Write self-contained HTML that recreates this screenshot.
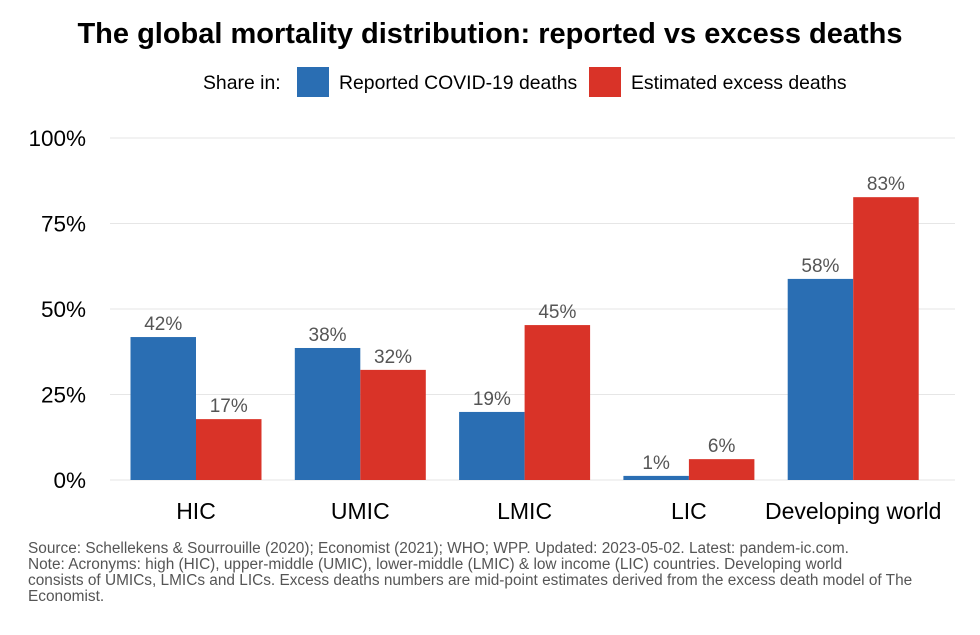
<!DOCTYPE html>
<html><head><meta charset="utf-8"><style>
body{margin:0;background:#fff;font-family:"Liberation Sans",Arial,sans-serif}
svg text{font-family:"Liberation Sans",Arial,sans-serif}
</style></head><body>
<svg id="chart" width="980" height="630" viewBox="0 0 980 630">
<text x="490" y="43" text-anchor="middle" font-size="29" font-weight="bold" fill="#000">The global mortality distribution: reported vs excess deaths</text>
<g>
<text x="203" y="89" font-size="19.4" fill="#000">Share in:</text>
<rect x="297" y="67" width="32" height="30" fill="#2a6eb3"/>
<text x="339" y="89" font-size="19.4" fill="#000">Reported COVID-19 deaths</text>
<rect x="589" y="67" width="32" height="30" fill="#d93328"/>
<text x="631" y="89" font-size="19.4" fill="#000">Estimated excess deaths</text>
</g>
<g id="grid"></g><g id="bars"></g><g id="xlabels"></g>
<g font-size="15.4" fill="#555">
<text x="28" y="553">Source: Schellekens &amp; Sourrouille (2020); Economist (2021); WHO; WPP. Updated: 2023-05-02. Latest: pandem-ic.com.</text>
<text x="28" y="569">Note: Acronyms: high (HIC), upper-middle (UMIC), lower-middle (LMIC) &amp; low income (LIC) countries. Developing world</text>
<text x="28" y="585">consists of UMICs, LMICs and LICs. Excess deaths numbers are mid-point estimates derived from the excess death model of The</text>
<text x="28" y="601">Economist.</text>
</g>
</svg>
<script>
const categories=["HIC","UMIC","LMIC","LIC","Developing world"];
const reported=[41.8,38.6,19.9,1.2,58.8];
const excess=[17.8,32.2,45.3,6.1,82.7];
const reportedLabels=["42%","38%","19%","1%","58%"];
const excessLabels=["17%","32%","45%","6%","83%"];
const yTicks=[0,25,50,75,100];
const NS="http://www.w3.org/2000/svg";
const y0=480,y100=138,plotL=110,plotR=955;
const y=v=>y0-(v/100)*(y0-y100);
const step=164.3,firstC=196,bw=65.5;
const xc=i=>firstC+i*step;
function mk(t,a,p){const e=document.createElementNS(NS,t);for(const k in a)e.setAttribute(k,a[k]);p.appendChild(e);return e;}
const grid=document.getElementById('grid');
yTicks.forEach(t=>{
 const l=mk('line',{x1:plotL,x2:plotR,y1:y(t),y2:y(t),stroke:'#e6e6e6','stroke-width':1},grid);
 
 
 const tx=mk('text',{x:86,y:y(t)+8,'text-anchor':'end','font-size':22.5,fill:'#000'},grid);
 tx.textContent=t+'%';
 
 
});
const bars=document.getElementById('bars'),xl=document.getElementById('xlabels');
categories.forEach((c,i)=>{
 [[reported,reportedLabels,'#2a6eb3',-bw,'reported'],[excess,excessLabels,'#d93328',0,'excess']].forEach(([arr,lab,col,off,nm])=>{
  const v=arr[i];
  const r=mk('rect',{x:xc(i)+off,y:y(v),width:bw,height:y0-y(v),fill:col},bars);
  
  
  const t=mk('text',{x:xc(i)+off+bw/2,y:y(v)-7,'text-anchor':'middle','font-size':19,fill:'#555'},bars);
  t.textContent=lab[i];
  
  
 });
 const t=mk('text',{x:xc(i),y:519,'text-anchor':'middle','font-size':23,fill:'#000'},xl);
 t.textContent=c;
 
 
});
</script>
</body></html>
